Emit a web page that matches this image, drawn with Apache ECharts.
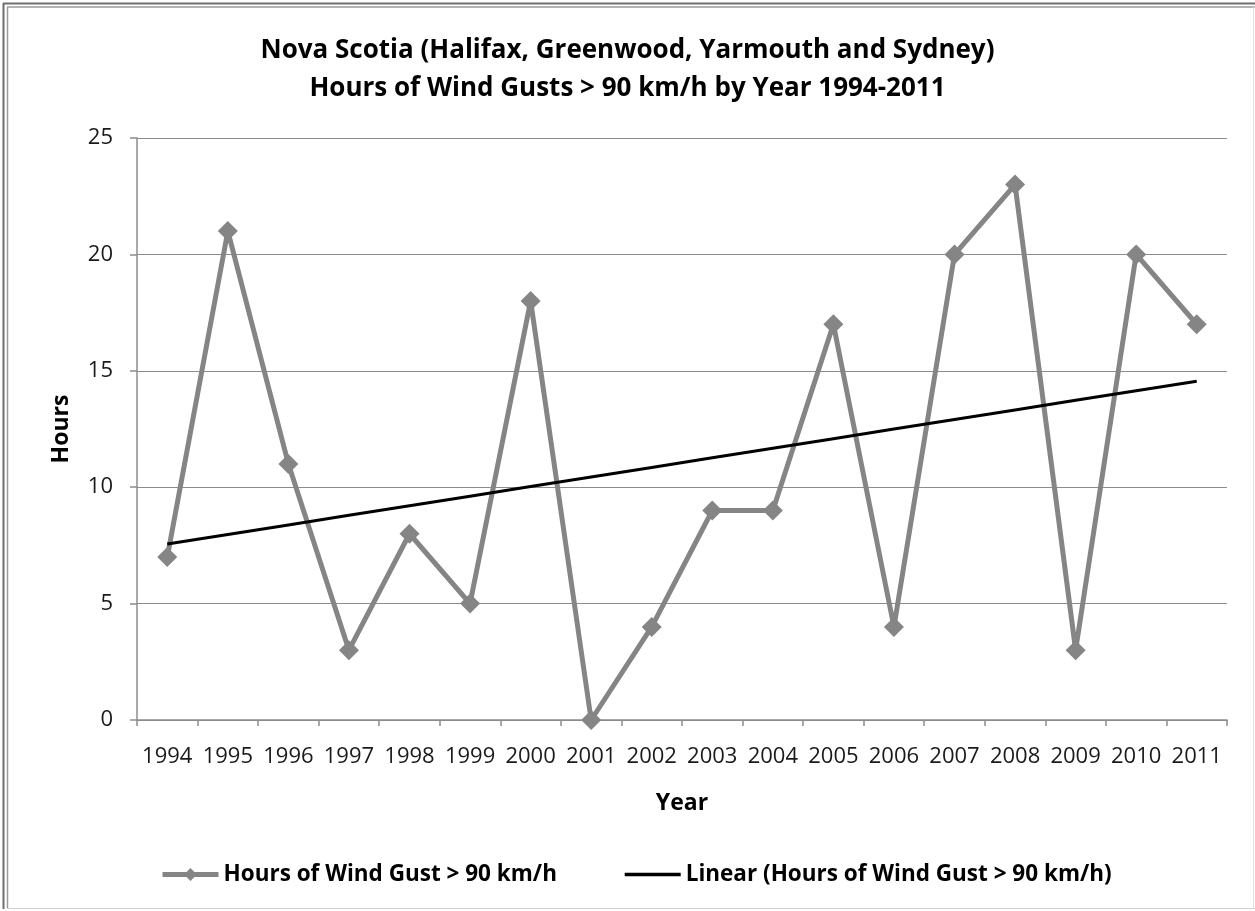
<!DOCTYPE html>
<html>
<head>
<meta charset="utf-8">
<title>Nova Scotia Wind Gusts</title>
<script src="https://cdn.jsdelivr.net/npm/echarts@6/dist/echarts.min.js"></script>
<style>
  html, body { margin: 0; padding: 0; background: #ffffff; }
  #chart { width: 1255px; height: 911px; }
</style>
</head>
<body>
<div id="chart"></div>
<script>
// Years on the category axis
const years = ['1994','1995','1996','1997','1998','1999','2000','2001','2002',
               '2003','2004','2005','2006','2007','2008','2009','2010','2011'];
// Hours of wind gusts above 90 km/h for each year
const gustHours = [7, 21, 11, 3, 8, 5, 18, 0, 4, 9, 9, 17, 4, 20, 23, 3, 20, 17];
// Y axis range and step
const yTicks = { min: 0, max: 25, step: 5 };

const seriesName = 'Hours of Wind Gust > 90 km/h';
const trendName = 'Linear (Hours of Wind Gust > 90 km/h)';

// Least-squares linear trend over the year index
function linearTrend(values) {
  const n = values.length;
  let sx = 0, sy = 0, sxy = 0, sxx = 0;
  values.forEach((y, x) => { sx += x; sy += y; sxy += x * y; sxx += x * x; });
  const slope = (n * sxy - sx * sy) / (n * sxx - sx * sx);
  const icept = (sy - slope * sx) / n;
  return values.map((_, x) => +(icept + slope * x).toFixed(4));
}
const trend = linearTrend(gustHours);

const FONT = "'Open Sans', 'Noto Sans', sans-serif";
const W = 1255, H = 911;

const chart = echarts.init(document.getElementById('chart'), null, { renderer: 'canvas' });
chart.setOption({
  backgroundColor: '#ffffff',
  animation: false,
  title: {
    text: 'Nova Scotia (Halifax, Greenwood, Yarmouth and Sydney)\nHours of Wind Gusts > 90 km/h by Year 1994-2011',
    left: 'center',
    top: 27,
    textStyle: { fontFamily: FONT, fontSize: 26, fontWeight: 700, color: '#000', lineHeight: 38 }
  },
  legend: {
    bottom: 20,
    left: 155,
    itemGap: 66,
    itemWidth: 56,
    itemHeight: 16,
    textStyle: { fontFamily: FONT, fontSize: 22.5, fontWeight: 700, color: '#000' },
    data: [
      { name: seriesName, lineStyle: { width: 5 } },
      { name: trendName, itemStyle: { opacity: 0 }, lineStyle: { width: 3.5 } }
    ]
  },
  grid: { left: 137, right: 28, top: 138, bottom: 191 },
  xAxis: {
    type: 'category',
    data: years,
    boundaryGap: true,
    name: 'Year',
    nameLocation: 'middle',
    nameGap: 72,
    nameTextStyle: { fontFamily: FONT, fontSize: 23, fontWeight: 700, color: '#000' },
    axisLine: { lineStyle: { color: '#8c8c8c', width: 1.5 } },
    axisTick: { show: true, inside: false, length: 6, alignWithLabel: false, lineStyle: { color: '#8c8c8c', width: 1.5 } },
    axisLabel: { fontFamily: FONT, fontSize: 22, color: '#1a1a1a', margin: 26, interval: 0 }
  },
  yAxis: {
    type: 'value',
    min: yTicks.min,
    max: yTicks.max,
    interval: yTicks.step,
    name: 'Hours',
    nameLocation: 'middle',
    nameGap: 64,
    nameRotate: 90,
    nameTextStyle: { fontFamily: FONT, fontSize: 23, fontWeight: 700, color: '#000' },
    axisLine: { show: true, lineStyle: { color: '#8c8c8c', width: 1.5 } },
    axisTick: { show: true, length: 7, lineStyle: { color: '#8c8c8c', width: 1.5 } },
    axisLabel: { fontFamily: FONT, fontSize: 22, color: '#1a1a1a', margin: 24 },
    splitLine: { lineStyle: { color: '#8c8c8c', width: 1.2 } }
  },
  series: [
    {
      name: seriesName,
      type: 'line',
      data: gustHours,
      symbol: 'diamond',
      symbolSize: 20,
      showAllSymbol: true,
      lineStyle: { color: '#858585', width: 5 },
      itemStyle: { color: '#858585' },
      z: 2
    },
    {
      name: trendName,
      type: 'line',
      data: trend,
      symbol: 'none',
      lineStyle: { color: '#000000', width: 3 },
      itemStyle: { color: '#000000' },
      z: 3
    }
  ],
  graphic: [
    // outer frame: double rule on left/top, light rule on right/bottom
    { type: 'line', shape: { x1: 3.5, y1: 3, x2: 3.5, y2: H - 2 }, style: { stroke: '#6e6e6e', lineWidth: 2 } },
    { type: 'line', shape: { x1: 7.5, y1: 7, x2: 7.5, y2: H - 3 }, style: { stroke: '#9a9a9a', lineWidth: 1.5 } },
    { type: 'line', shape: { x1: 3, y1: 3.5, x2: W, y2: 3.5 }, style: { stroke: '#6e6e6e', lineWidth: 2 } },
    { type: 'line', shape: { x1: 7, y1: 7, x2: W, y2: 7 }, style: { stroke: '#9a9a9a', lineWidth: 1.5 } },
    { type: 'line', shape: { x1: 7, y1: H - 2.5, x2: W, y2: H - 2.5 }, style: { stroke: '#d0d0d0', lineWidth: 1 } },
    { type: 'line', shape: { x1: W - 1.5, y1: 7, x2: W - 1.5, y2: H - 2 }, style: { stroke: '#e0e0e0', lineWidth: 1 } }
  ]
});
</script>
</body>
</html>
